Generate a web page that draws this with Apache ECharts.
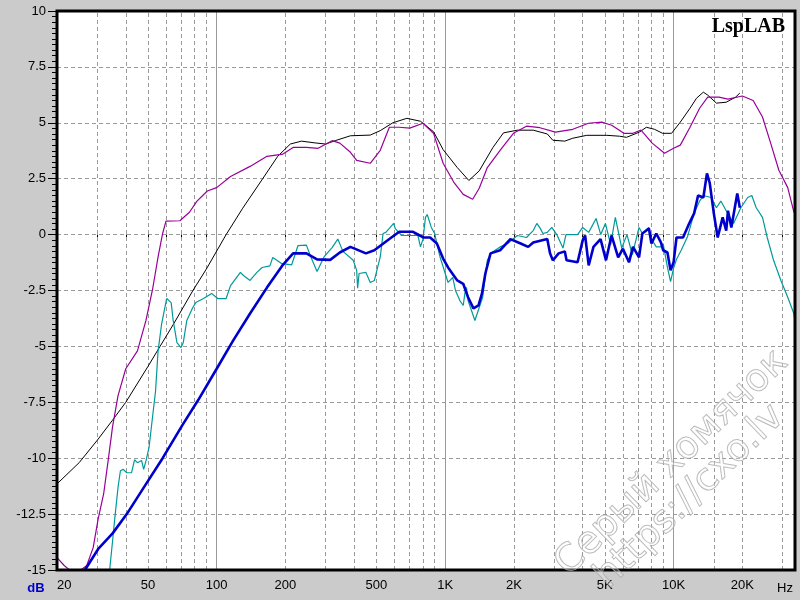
<!DOCTYPE html>
<html>
<head>
<meta charset="utf-8">
<script src="https://cdn.jsdelivr.net/npm/echarts@6/dist/echarts.min.js"></script>
<style>
  html, body { margin: 0; padding: 0; background: #cbcbcb; }
  #chart { width: 800px; height: 600px; }
</style>
</head>
<body>
<div id="chart"></div>
<script>
// frequency axis labels / ticks / grid
const freqLabels = [20, 50, 100, 200, 500, 1000, 2000, 5000, 10000, 20000];
const freqTicks = [30, 40, 50, 60, 70, 80, 90, 100, 200, 300, 400, 500, 600, 700, 800, 900,
  1000, 2000, 3000, 4000, 5000, 6000, 7000, 8000, 9000, 10000, 15000, 20000, 30000];
const dashedGrid = [30, 40, 50, 60, 70, 80, 90, 200, 300, 400, 500, 600, 700, 800, 900,
  2000, 3000, 4000, 5000, 6000, 7000, 8000, 9000, 15000, 20000, 30000];
const solidGrid = [100, 1000, 10000];

// black curve
const blackFreq = [20, 25, 30, 35, 40, 50, 56.5, 65, 78.7, 90, 110, 130, 159, 185, 210, 235, 270, 300, 330, 385,
  470, 520, 590, 680, 780, 890, 980, 1130, 1270, 1410, 1620, 1800, 2070, 2430, 2800, 2960, 3340, 3620, 4170, 5100,
  5800, 6220, 7070, 7600, 8250, 8950, 9800, 10700, 11800, 12600, 13500, 14100, 15400, 17000, 18700, 19500];
const blackDb = [-11.15, -10.2, -9.2, -8.3, -7.5, -5.9, -5.0, -3.97, -2.5, -1.55, 0, 1.18, 2.5, 3.5, 4.05, 4.18, 4.1, 4.05, 4.2, 4.42,
  4.45, 4.65, 5.0, 5.2, 5.07, 4.6, 3.8, 3.0, 2.42, 2.85, 3.9, 4.55, 4.67, 4.67, 4.5, 4.22, 4.18, 4.31, 4.44, 4.44,
  4.4, 4.35, 4.58, 4.8, 4.71, 4.53, 4.53, 5.03, 5.65, 6.1, 6.37, 6.24, 5.88, 5.92, 6.15, 6.33];

// purple curve
const purpleFreq = [20, 21.5, 23, 25, 27, 28.8, 30.3, 32, 33.6, 35, 37, 40, 45, 49, 52.5, 55.4, 58, 60, 69, 76,
  82, 91, 100, 115, 140, 166, 195, 216, 247, 278, 320, 346, 385, 410, 470, 520, 570, 630, 700, 800,
  890, 980, 1090, 1200, 1320, 1410, 1530, 1740, 1990, 2270, 2600, 3040, 3620, 4240, 4850, 5360, 6060, 6640, 7200, 8060,
  9130, 10000, 10700, 11800, 13000, 14100, 15800, 17300, 20000, 22300, 24500, 26600, 28900, 31600, 33500, 34000];
const purpleDb = [-14.45, -14.8, -15.05, -15.05, -14.8, -14.0, -12.7, -11.6, -10.0, -8.6, -7.2, -6.0, -5.2, -3.85, -2.4, -1.0, 0.05, 0.6, 0.62, 1.0,
  1.5, 1.95, 2.1, 2.6, 3.05, 3.5, 3.6, 3.9, 3.9, 3.86, 4.2, 4.09, 3.68, 3.32, 3.19, 3.77, 4.8, 4.8, 4.76, 4.98,
  4.53, 3.19, 2.35, 1.8, 1.58, 2.07, 3.0, 3.77, 4.53, 4.85, 4.78, 4.58, 4.71, 4.98, 5.03, 4.89, 4.53, 4.53, 4.67, 4.09,
  3.64, 3.86, 4.0, 4.8, 5.65, 6.15, 6.15, 6.06, 6.2, 6.0, 5.26, 4.09, 2.88, 2.1, 1.07, 0.9];

// teal curve
const tealFreq = [34, 35.1, 35.8, 37, 37.9, 39, 40.4, 42.4, 43.7, 45, 46.9, 47.9, 49.1, 50.6, 52.6, 54, 55.4, 57.4, 58.7, 60.4,
  63.2, 64.5, 67, 69.8, 71.4, 74, 78.6, 81, 87.6, 95, 101, 110, 115, 127, 131, 140, 150, 158, 171, 176,
  193, 213, 227, 247, 256, 275, 295, 320, 339, 357, 396, 410, 414, 420, 450, 470, 490, 520, 535, 550,
  575, 595, 605, 645, 760, 780, 800, 820, 835, 870, 900, 920, 950, 1030, 1080, 1110, 1160, 1200, 1220, 1240,
  1260, 1350, 1410, 1460, 1530, 1600, 1740, 1880, 2070, 2270, 2430, 2520, 2600, 2680, 2800, 2930, 3080, 3280, 3380, 3800,
  4000, 4250, 4580, 4800, 5030, 5300, 5560, 5930, 6250, 6600, 7060, 7300, 7800, 8000, 8400, 8800, 9000, 9400, 9700, 10000,
  10300, 10800, 11500, 12300, 13000, 13500, 14600, 15400, 16100, 17000, 18300, 19700, 21100, 22000, 23000, 24500, 25700, 27400, 29500, 31600,
  33600, 34000];
const tealDb = [-15.0, -13.6, -12.7, -11.3, -10.56, -10.5, -10.65, -10.65, -10.07, -10.2, -10.1, -10.5, -10.1, -9.5, -8.0, -7.0, -5.2, -4.0, -3.5, -2.86,
  -3.04, -3.84, -4.83, -5.05, -4.83, -3.84, -3.26, -3.04, -2.86, -2.63, -2.86, -2.86, -2.28, -1.69, -1.83, -2.05, -1.69, -1.47, -1.4, -1.02,
  -1.3, -1.35, -0.49, -0.47, -0.9, -1.65, -1.0, -0.58, -0.2, -0.75, -1.15, -1.6, -2.4, -1.74, -1.69, -2.14, -2.05, -1.0, 0.05, 0.1,
  0.32, 0.5, 0.27, -0.04, -0.04, -0.55, -0.2, 0.77, 0.9, 0.32, 0.05, -0.4, -1.0, -2.14, -1.92, -2.5, -2.95, -3.17, -2.63, -2.36,
  -2.95, -3.84, -3.26, -2.8, -1.15, -0.8, -0.55, -0.4, -0.04, -0.13, 0.18, 0.5, 0.3, 0.05, 0.1, 0.32, 0, -0.6, 0, 0,
  0.32, 0.1, 0.72, 0, 0.5, -0.45, 0.77, -0.6, 0, -0.9, 0.32, 0.05, 0.32, -0.2, -0.55, -0.55, -0.4, -1.47, -2.1, -1.5,
  -1.1, -0.7, -0.1, 0.95, 1.5, 1.75, 1.66, 1.2, 1.5, 1.07, 0.5, 1.2, 1.66, 1.75, 1.2, 0.77, -0.13, -1.15, -2.05, -2.8,
  -3.53, -3.9];

// blue curve
const blueFreq = [26.5, 30.3, 35.1, 40.4, 49.1, 58, 71, 83, 100, 118, 140, 166, 195, 216, 247, 275, 314, 346, 385, 450,
  490, 570, 630, 720, 805, 860, 920, 980, 1030, 1130, 1200, 1260, 1330, 1400, 1450, 1500, 1580, 1740, 1930, 2140,
  2310, 2430, 2800, 2880, 2960, 3140, 3340, 3400, 3800, 4000, 4100, 4250, 4460, 4790, 5060, 5350, 5720, 6000, 6380, 6640,
  7060, 7300, 7800, 8000, 8400, 8800, 9000, 9400, 9700, 10000, 10300, 11000, 11600, 12300, 12800, 13500, 14000, 14400, 15000, 15600,
  16400, 17000, 17300, 17900, 19000, 19500];
const blueDb = [-15.0, -14.06, -13.35, -12.5, -11.15, -10.0, -8.5, -7.4, -6.0, -4.74, -3.53, -2.37, -1.35, -0.84, -0.84, -1.11, -1.13, -0.8, -0.55, -0.84,
  -0.7, -0.2, 0.13, 0.13, -0.13, -0.13, -0.4, -1.07, -1.47, -2.05, -2.2, -2.8, -3.3, -3.17, -2.63, -1.74, -0.84, -0.7, -0.2, -0.4,
  -0.55, -0.35, -0.2, -0.84, -1.15, -0.84, -0.75, -1.15, -1.24, -0.26, -0.04, -1.38, -0.55, -0.2, -1.15, -0.04, -1.02, -0.63, -1.24, -0.55,
  -1.02, 0.05, 0.27, -0.4, 0.05, -0.35, -0.7, -0.8, -1.6, -1.24, -0.13, -0.13, 0.41, 0.95, 1.75, 1.66, 2.74, 2.3, 0.95, -0.13,
  0.77, 0.18, 1.07, 0.32, 1.84, 1.2];

const zip = (xs, ys) => xs.map((x, i) => [x, ys[i]]);

const fmtFreq = (v) => (v >= 1000 ? (v / 1000) + 'K' : String(v));

const chart = echarts.init(document.getElementById('chart'), null, { renderer: 'canvas' });

const labelFont = '"Liberation Sans", Arial, sans-serif';

const option = {
  animation: false,
  backgroundColor: '#cbcbcb',
  grid: {
    left: 57, top: 11, right: 5, bottom: 30,
    show: true, backgroundColor: '#ffffff', borderWidth: 0
  },
  xAxis: {
    type: 'log',
    logBase: 10,
    min: 20,
    max: 34000,
    axisLine: { show: false },
    axisTick: {
      show: true, length: 4, customValues: freqTicks,
      lineStyle: { color: '#000' }
    },
    axisLabel: {
      customValues: freqLabels,
      formatter: fmtFreq,
      alignMinLabel: 'left',
      color: '#000', fontSize: 13, fontFamily: labelFont, margin: 9
    },
    splitLine: { show: false },
    minorTick: { show: false }
  },
  yAxis: {
    type: 'value',
    min: -15,
    max: 10,
    interval: 2.5,
    axisLine: { show: false },
    axisTick: { show: true, length: 9, lineStyle: { color: '#000' } },
    minorTick: { show: true, splitNumber: 10, length: 5, lineStyle: { color: '#000' } },
    axisLabel: { color: '#000', fontSize: 13, fontFamily: labelFont, margin: 11 },
    splitLine: { show: true, lineStyle: { color: '#9a9a9a', type: [4, 3], width: 1 } }
  },
  series: [
    {
      name: 'black', type: 'line', symbol: 'none', z: 2,
      data: zip(blackFreq, blackDb),
      lineStyle: { color: '#000000', width: 1 },
      // vertical grid lines
      markLine: {
        silent: true, symbol: 'none', z: 1, animation: false,
        label: { show: false },
        data: dashedGrid.map(f => ({ xAxis: f, lineStyle: { color: '#9a9a9a', type: [4, 3], width: 1 } }))
          .concat(solidGrid.map(f => ({ xAxis: f, lineStyle: { color: '#9a9a9a', type: 'solid', width: 1 } })))
      }
    },
    {
      name: 'purple', type: 'line', symbol: 'none', z: 3,
      data: zip(purpleFreq, purpleDb),
      lineStyle: { color: '#990099', width: 1.2 }
    },
    {
      name: 'teal', type: 'line', symbol: 'none', z: 4,
      data: zip(tealFreq, tealDb),
      lineStyle: { color: '#009999', width: 1.2 }
    },
    {
      name: 'blue', type: 'line', symbol: 'none', z: 5,
      data: zip(blueFreq, blueDb),
      lineStyle: { color: '#0000cc', width: 2.6 }
    }
  ],
  graphic: [
    {
      type: 'rect', z: 100, silent: true,
      shape: { x: 57, y: 11, width: 738, height: 559 },
      style: { fill: null, stroke: '#000', lineWidth: 3 }
    },
    {
      type: 'text', z: 101, x: 785, y: 27,
      style: {
        text: 'LspLAB', font: 'bold 20px "Liberation Serif", "Times New Roman", serif',
        fill: '#000', align: 'right', verticalAlign: 'middle',
        shadowColor: 'rgba(0,0,0,0.45)', shadowOffsetX: 3, shadowOffsetY: 3, shadowBlur: 2
      }
    },
    {
      type: 'text', x: 36, y: 588, z: 101,
      style: { text: 'dB', font: 'bold 13px ' + labelFont, fill: '#0000cc', align: 'center', verticalAlign: 'middle' }
    },
    {
      type: 'text', x: 785, y: 588, z: 101,
      style: { text: 'Hz', font: '13px ' + labelFont, fill: '#000', align: 'center', verticalAlign: 'middle' }
    },
    {
      type: 'text', x: 672, y: 463, z: 102, silent: true,
      rotation: 44 * Math.PI / 180,
      style: {
        text: 'Серый хомячок', font: '38px "DejaVu Sans", sans-serif',
        fill: 'rgba(255,255,255,0.25)', stroke: 'rgba(160,160,160,0.8)', lineWidth: 1,
        align: 'center', verticalAlign: 'middle'
      }
    },
    {
      type: 'text', x: 690, y: 497, z: 102, silent: true,
      rotation: 44 * Math.PI / 180,
      style: {
        text: 'https://cxo.lv', font: '38px "DejaVu Sans", sans-serif',
        fill: 'rgba(255,255,255,0.25)', stroke: 'rgba(160,160,160,0.8)', lineWidth: 1,
        align: 'center', verticalAlign: 'middle'
      }
    }
  ]
};

chart.setOption(option);
</script>
</body>
</html>
